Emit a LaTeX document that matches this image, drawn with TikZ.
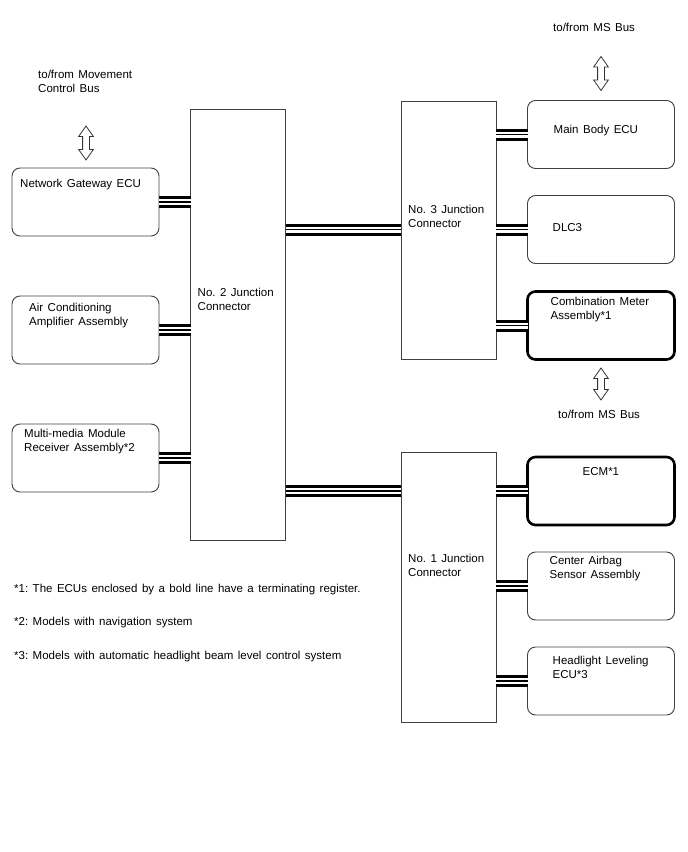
\documentclass[tikz,border=0pt]{standalone}
\usepackage{fontspec}
\setmainfont[WordSpace=1.4]{Liberation Sans}
\frenchspacing
\usetikzlibrary{positioning, calc, shapes.arrows}

\tikzset{
  ecu/.style={rectangle, rounded corners=8pt, draw=black!75, line width=0.9pt,
    minimum width=147pt, minimum height=68pt, inner sep=0pt, outer sep=0pt},
  ecubold/.style={ecu, draw=black, line width=2.6pt},
  jbox/.style={rectangle, draw=black!75, line width=0.9pt,
    minimum width=95pt, inner sep=0pt, outer sep=0pt},
  txt/.style={anchor=north west, align=left, inner sep=0pt,
    font=\fontsize{11.5}{14}\selectfont},
  bus/.style={draw=black, line width=12pt,
    postaction={draw=white, line width=6pt},
    postaction={draw=black, line width=1.2pt}},
  busarrow/.style={double arrow, draw=black!80, line width=0.8pt, rotate=90,
    minimum height=34pt, minimum width=14pt, inner sep=3pt,
    double arrow head extend=4pt, double arrow tip angle=70}
}

\begin{document}
\begin{tikzpicture}[x=1pt, y=-1pt]
  \useasboundingbox (0,0) rectangle (688,852);
  % linke Spalte
  \node[ecu] (ngw) at (85.5,202) {};
  \node[ecu, below=60pt of ngw] (ac) {};
  \node[ecu, below=60pt of ac] (mm) {};
  % Verbinder
  \node[jbox, minimum height=431pt] (j2) at (238,324.5) {};
  \node[jbox, minimum height=258pt] (j3) at (448.5,230) {};
  \node[jbox, minimum height=270pt] (j1) at (448.5,587) {};
  % rechte Spalte oben
  \node[ecu] (mbe) at (601,134.5) {};
  \node[ecu, below=27pt of mbe] (dlc) {};
  \node[ecubold, below=28pt of dlc] (cmb) {};
  % rechte Spalte unten
  \node[ecubold] (ecm) at (601,491) {};
  \node[ecu, below=27pt of ecm] (sab) {};
  \node[ecu, below=27pt of sab] (hlv) {};

  % Beschriftungen
  \node[txt] (ngwtxt) at ($(ngw.north west)+(8,11)$) {Network Gateway ECU};
  \node[txt] (actxt) at ($(ac.north west)+(17,7)$) {Air Conditioning\\Amplifier Assembly};
  \node[txt] (mmtxt) at ($(mm.north west)+(12,4.5)$) {Multi-media Module\\Receiver Assembly*2};
  \node[txt] (j2txt) at ($(j2.north west)+(7,178.5)$) {No. 2 Junction\\Connector};
  \node[txt] (j3txt) at ($(j3.north west)+(7,103.5)$) {No. 3 Junction\\Connector};
  \node[txt] (j1txt) at ($(j1.north west)+(7,101.5)$) {No. 1 Junction\\Connector};
  \node[txt] (mbetxt) at ($(mbe.north west)+(26,24)$) {Main Body ECU};
  \node[txt] (dlctxt) at ($(dlc.north west)+(25,27.5)$) {DLC3};
  \node[txt] (cmbtxt) at ($(cmb.north west)+(23,5)$) {Combination Meter\\Assembly*1};
  \node[txt] (ecmtxt) at ($(ecm.north west)+(55,10)$) {ECM*1};
  \node[txt] (sabtxt) at ($(sab.north west)+(22,3.5)$) {Center Airbag\\Sensor Assembly};
  \node[txt] (hlvtxt) at ($(hlv.north west)+(25,8.5)$) {Headlight Leveling\\ECU*3};

  % Busse
  \node[txt] (mcbus) at (38,69.5) {to/from Movement\\Control Bus};
  \node[busarrow] (mcarrow) at (86,143) {};
  \node[txt] (msbus1) at (553,22.5) {to/from MS Bus};
  \node[busarrow] (msarrow1) at (601,73.5) {};
  \node[busarrow, minimum height=32pt] (msarrow2) at (601,384) {};
  \node[txt] (msbus2) at (558,409.5) {to/from MS Bus};

  % Leitungen
  \draw[bus] (ngw.east) -- (ngw.east -| j2.west);
  \draw[bus] (ac.east) -- (ac.east -| j2.west);
  \draw[bus] (mm.east) -- (mm.east -| j2.west);
  \draw[bus] (j2.east |- dlc.west) -- (j3.west |- dlc.west);
  \draw[bus] (j2.east |- ecm.west) -- (j1.west |- ecm.west);
  \draw[bus] (j3.east |- mbe.west) -- (mbe.west);
  \draw[bus] (j3.east |- dlc.west) -- (dlc.west);
  \draw[bus] (j3.east |- cmb.west) -- (cmb.west);
  \draw[bus] (j1.east |- ecm.west) -- (ecm.west);
  \draw[bus] (j1.east |- sab.west) -- (sab.west);
  \draw[bus] (j1.east |- hlv.west) -- (hlv.west);

  % Fussnoten
  \node[txt] (fn1) at (14,583.5) {*1: The ECUs enclosed by a bold line have a terminating register.};
  \node[txt] (fn2) at (14,616.5) {*2: Models with navigation system};
  \node[txt] (fn3) at (14,650.5) {*3: Models with automatic headlight beam level control system};
\end{tikzpicture}
\end{document}
